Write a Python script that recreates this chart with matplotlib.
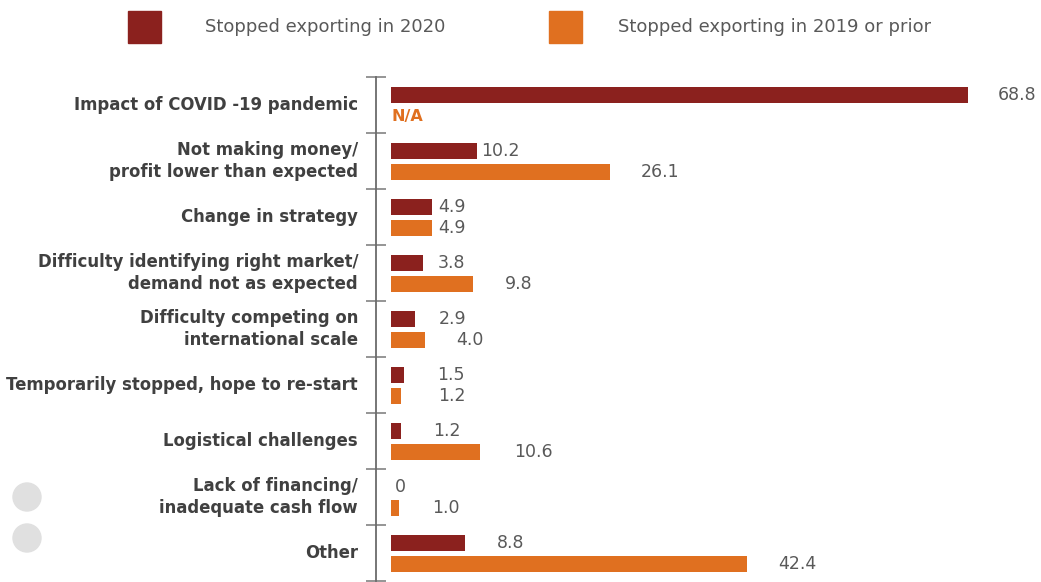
import numpy as np
import matplotlib.pyplot as plt
from matplotlib.patches import Rectangle, Circle

categories = ['Impact of COVID -19 pandemic',
              'Not making money/\nprofit lower than expected',
              'Change in strategy',
              'Difficulty identifying right market/\ndemand not as expected',
              'Difficulty competing on\ninternational scale',
              'Temporarily stopped, hope to re-start',
              'Logistical challenges',
              'Lack of financing/\ninadequate cash flow',
              'Other']
stopped_2020 = [68.8, 10.2, 4.9, 3.8, 2.9, 1.5, 1.2, 0.0, 8.8]
stopped_2019 = [np.nan, 26.1, 4.9, 9.8, 4.0, 1.2, 10.6, 1.0, 42.4]
series_names = ['Stopped exporting in 2020', 'Stopped exporting in 2019 or prior']

# hand nudges for the value labels (pixels right of the bar end)
nudge_2020 = [30, 5, 6, 15, 23, 34, 32, 4, 32]
nudge_2019 = [0, 31, 6, 32, 32, 37, 34, 33, 32]

c_dark = '#8B211E'
c_orange = '#E07020'
c_text = '#595959'
c_cat = '#404040'

plt.rcParams['font.family'] = ['DejaVu Sans']

W, H = 1041, 582
fig = plt.figure(figsize=(W / 100, H / 100), dpi=100)
ax = fig.add_axes([376 / W, 1 - 581 / H, (W - 376) / W, (581 - 77) / H])

y = np.arange(len(categories))
bh = 0.29
ax.barh(y + 0.32, stopped_2020, height=bh, left=0, color=c_dark)
ax.barh(y + 0.70, stopped_2019, height=bh, left=0, color=c_orange)

ax.set_xlim(-1.79, 77.5)
ax.set_ylim(len(categories), 0)

for s in ['top', 'right', 'bottom']:
    ax.spines[s].set_visible(False)
ax.spines['left'].set_color('#6b6b6b')
ax.spines['left'].set_linewidth(1.3)
ax.set_xticks([])
ax.set_yticks(np.arange(len(categories) + 1))
ax.set_yticklabels([])
ax.tick_params(axis='y', direction='inout', length=15, width=1.3, color='#8c8c8c')

for i, cat in enumerate(categories):
    ax.text(-0.027, i + 0.5, cat, transform=ax.get_yaxis_transform(),
            ha='right', va='center', fontsize=11.9, fontweight='bold',
            color=c_cat, linespacing=1.28)

for i in range(len(categories)):
    ax.annotate(f'{stopped_2020[i]:.1f}' if stopped_2020[i] else '0',
                (stopped_2020[i], i + 0.32), xytext=(nudge_2020[i], 0),
                textcoords='offset pixels', ha='left', va='center',
                fontsize=12.5, color=c_text)
    if np.isnan(stopped_2019[i]):
        ax.text(0, i + 0.70, 'N/A', ha='left', va='center', fontsize=11.5,
                fontweight='bold', color=c_orange)
    else:
        ax.annotate(f'{stopped_2019[i]:.1f}', (stopped_2019[i], i + 0.70),
                    xytext=(nudge_2019[i], 0), textcoords='offset pixels',
                    ha='left', va='center', fontsize=12.5, color=c_text)

# legend drawn by hand across the top
for (sx, tx), name, col in zip([(128, 205), (549, 618)], series_names, [c_dark, c_orange]):
    fig.add_artist(Rectangle((sx / W, 1 - 43 / H), 33 / W, 32 / H,
                             transform=fig.transFigure, color=col))
    fig.text(tx / W, 1 - 27 / H, name, ha='left', va='center',
             fontsize=13, color=c_text)

# two grey dots at the lower left
for cy in [497, 538]:
    fig.add_artist(Circle((0.27, (H - cy) / 100), 0.14,
                          transform=fig.dpi_scale_trans, color='#e0e0e0'))

fig.savefig('out.png', dpi=100)
